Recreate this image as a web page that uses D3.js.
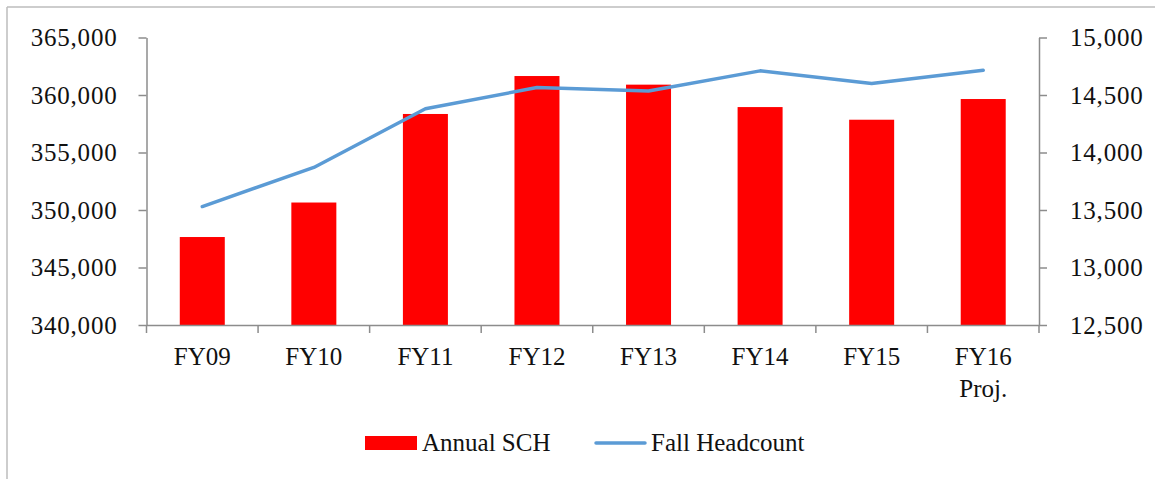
<!DOCTYPE html>
<html>
<head>
<meta charset="utf-8">
<script src="https://cdn.jsdelivr.net/npm/d3@7"></script>
<style>
  body { margin: 0; background: #fff; }
  text { font-family: "Liberation Serif", "DejaVu Serif", serif; fill: #111; }
</style>
</head>
<body>
<svg width="1155" height="479"></svg>
<script>
// categories and the two series
var years = ["FY09", "FY10", "FY11", "FY12", "FY13", "FY14", "FY15", "FY16\nProj."];
var annualSCH = [347650, 350650, 358350, 361650, 360900, 358950, 357850, 359650];
var fallHeadcount = [13530, 13870, 14380, 14565, 14535, 14710, 14600, 14715];
var leftTicks = [340000, 345000, 350000, 355000, 360000, 365000];
var rightTicks = [12500, 13000, 13500, 14000, 14500, 15000];

var svg = d3.select("svg"),
    width = +svg.attr("width"),
    height = +svg.attr("height");

// plot area edges
var plotLeft = 146.5, plotRight = 1039, plotTop = 37.5, plotBottom = 325;
var axisColor = "#8c8c8c";
var fmt = d3.format(",");

// frame round the chart (only top and left edges show)
svg.append("line").attr("x1", 7).attr("x2", width).attr("y1", 7).attr("y2", 7)
    .attr("stroke", "#bdbdbd").attr("stroke-width", 1.5);
svg.append("line").attr("x1", 7).attr("x2", 7).attr("y1", 7).attr("y2", height)
    .attr("stroke", "#bdbdbd").attr("stroke-width", 1.5);

var x = d3.scaleBand().domain(years).range([plotLeft, plotRight]);
var yL = d3.scaleLinear().domain([340000, 365000]).range([plotBottom, plotTop]);
var yR = d3.scaleLinear().domain([12500, 15000]).range([plotBottom, plotTop]);

//bars
svg.append("g").selectAll("rect")
    .data(annualSCH)
    .enter().append("rect")
      .attr("x", function(d, i) { return x(years[i]) + x.bandwidth() / 2 - 22.5; })
      .attr("width", 45)
      .attr("y", function(d) { return yL(d); })
      .attr("height", function(d) { return plotBottom - yL(d); })
      .attr("fill", "#ff0000");

//left axis
var gL = svg.append("g").attr("transform", "translate(" + plotLeft + ",0)")
    .call(d3.axisLeft(yL).tickValues(leftTicks).tickFormat(fmt).tickSize(8).tickSizeOuter(0).tickPadding(21));
//right axis
var gR = svg.append("g").attr("transform", "translate(" + plotRight + ",0)")
    .call(d3.axisRight(yR).tickValues(rightTicks).tickFormat(fmt).tickSize(8).tickSizeOuter(0).tickPadding(23));
//bottom axis, ticks between categories
var gB = svg.append("g").attr("transform", "translate(0," + plotBottom + ")")
    .call(d3.axisBottom(x).tickSize(0).tickFormat(""));
gB.selectAll(".cat-tick")
    .data(years.concat(["end"]))
    .enter().append("line")
      .attr("class", "cat-tick")
      .attr("x1", function(d, i) { return plotLeft + i * x.step(); })
      .attr("x2", function(d, i) { return plotLeft + i * x.step(); })
      .attr("y1", 0).attr("y2", 8);

[gL, gR, gB].forEach(function(g) {
  g.selectAll("path.domain").attr("stroke", axisColor).attr("stroke-width", 1.5);
  g.selectAll("line").attr("stroke", axisColor).attr("stroke-width", 1.5);
  g.selectAll("text").style("font-size", "25px").style("letter-spacing", "0.8px")
      .style("font-family", "'Liberation Serif', serif").attr("fill", "#111");
});

//category labels, two lines for the last one
svg.append("g").selectAll("text")
    .data(years)
    .enter().append("text")
      .attr("x", function(d) { return x(d) + x.bandwidth() / 2; })
      .attr("y", 365)
      .attr("text-anchor", "middle")
      .style("font-size", "25px")
      .each(function(d) {
        var parts = d.split("\n");
        var t = d3.select(this);
        parts.forEach(function(p, k) {
          t.append("tspan").attr("x", t.attr("x")).attr("dy", k ? 32 : 0).text(p);
        });
      });

//line for headcount
var line = d3.line()
    .x(function(d, i) { return x(years[i]) + x.bandwidth() / 2; })
    .y(function(d) { return yR(d); });

svg.append("path")
    .datum(fallHeadcount)
    .attr("d", line)
    .attr("fill", "none")
    .attr("stroke", "#5b9bd5")
    .attr("stroke-width", 3.5)
    .attr("stroke-linecap", "round")
    .attr("stroke-linejoin", "round");

//legend
var legend = svg.append("g");
legend.append("rect").attr("x", 365).attr("y", 436).attr("width", 52).attr("height", 14)
    .attr("fill", "#ff0000");
legend.append("text").attr("x", 422).attr("y", 451).style("font-size", "25px").text("Annual SCH");
legend.append("line").attr("x1", 596).attr("x2", 645).attr("y1", 443).attr("y2", 443)
    .attr("stroke", "#5b9bd5").attr("stroke-width", 3.5).attr("stroke-linecap", "round");
legend.append("text").attr("x", 651).attr("y", 451).style("font-size", "25px").text("Fall Headcount");
</script>
</body>
</html>
